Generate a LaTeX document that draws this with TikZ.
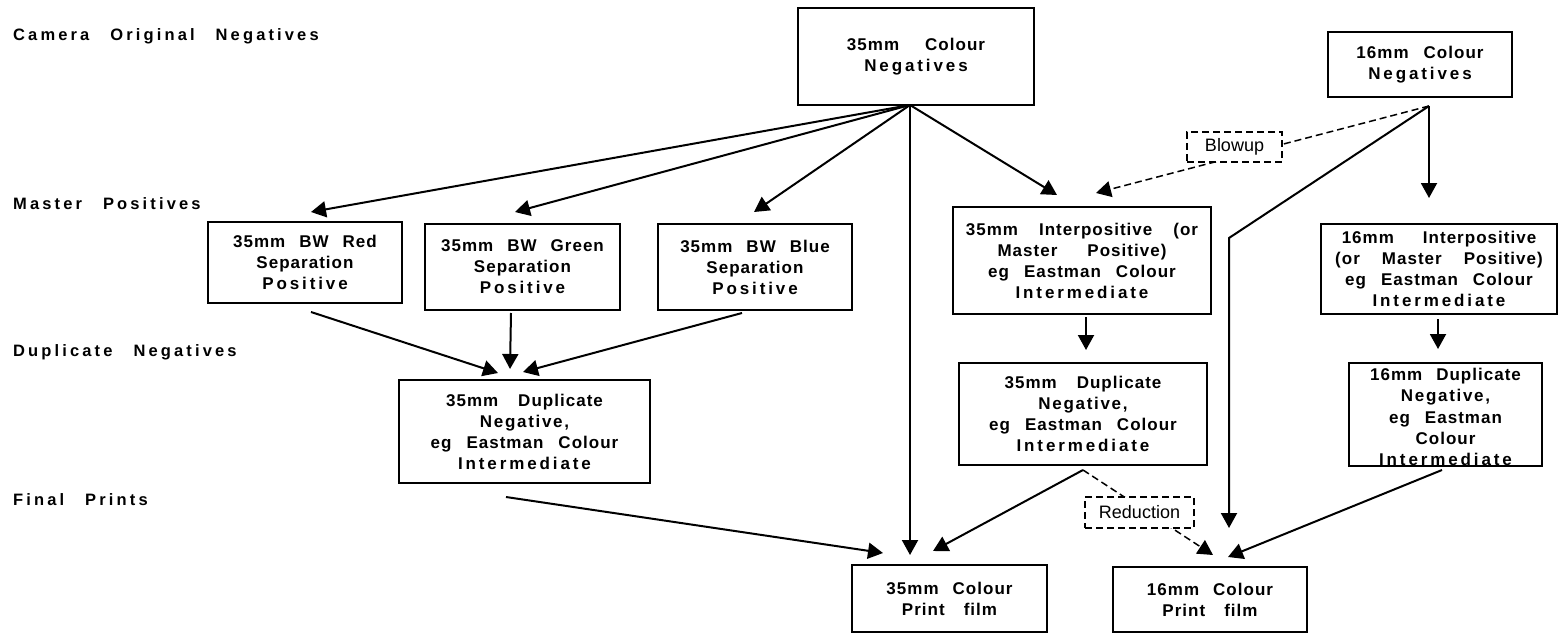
\documentclass[tikz,border=0pt]{standalone}
\usepackage{fontspec}
\setmainfont{Liberation Sans}
\newfontfamily\bxf{Liberation Sans}[LetterSpace=6]
\newfontfamily\bxw{Liberation Sans}[LetterSpace=17]
\newfontfamily\bxn{Liberation Sans}[LetterSpace=10]
\newfontfamily\lblf{Liberation Sans}[LetterSpace=19]
\usetikzlibrary{arrows.meta}
\newcommand\gp[1]{\hspace{#1pt}}
\newcommand\wide[1]{{\bxw\bfseries #1}}
\newcommand\midsp[1]{{\bxn\bfseries #1}}
\begin{document}
\begin{tikzpicture}[x=1pt,y=-1pt,
  box/.style={draw, line width=1.8pt, inner sep=0pt, align=center,
    font=\bxf\bfseries\fontsize{17}{21}\selectfont},
  txt/.style={inner sep=0pt, align=center,
    font=\bxf\bfseries\fontsize{17}{21.25}\selectfont},
  lvl/.style={inner sep=0pt, anchor=base west,
    font=\lblf\bfseries\fontsize{16.5}{20}\selectfont},
  tag/.style={draw, dash pattern=on 7pt off 4pt, line width=1.5pt, fill=white,
    inner sep=0pt, font=\fontsize{18}{20}\selectfont},
  arr/.style={line width=2pt, -{Triangle[length=15pt,width=16pt]}},
  dsh/.style={line width=1.5pt, dash pattern=on 7pt off 4pt,
    -{Triangle[length=15pt,width=16pt]}}]
\useasboundingbox (0,0) rectangle (1558,634);

% level labels
\node[lvl] (L1) at (13,41) {Camera\gp{21}Original\gp{21}Negatives};
\node[lvl] (L2) at (13,209) {Master\gp{21}Positives};
\node[lvl] (L3) at (13,356) {Duplicate\gp{21}Negatives};
\node[lvl] (L4) at (13,505) {Final\gp{21}Prints};

% boxes
\node[box, minimum width=236, minimum height=97] (N35) at (916,56.5)
  {35mm\gp{26}Colour\\\wide{Negatives}};
\node[box, minimum width=184, minimum height=65] (N16) at (1420,64.5)
  {16mm\gp{15}Colour\\\wide{Negatives}};
\node[box, minimum width=194, minimum height=81] (Red) at (305,262.5)
  {35mm\gp{14}BW\gp{14}Red\\Separation\\\wide{Positive}};
\node[box, minimum width=195, minimum height=86] (Green) at (522.5,267)
  {35mm\gp{14}BW\gp{14}Green\\Separation\\\wide{Positive}};
\node[box, minimum width=194, minimum height=86] (Blue) at (755,267)
  {35mm\gp{14}BW\gp{14}Blue\\Separation\\\wide{Positive}};
\node[box, minimum width=258, minimum height=107] (IP35) at (1082,260.5)
  {35mm\gp{21}Interpositive\gp{21}(or\\Master\gp{30}Positive)\\eg\gp{15}Eastman\gp{15}Colour\\\wide{Intermediate}};
\node[box, minimum width=236, minimum height=90] (IP16) at (1439,269)
  {16mm\gp{29}Interpositive\\(or\gp{22}Master\gp{22}Positive)\\eg\gp{15}Eastman\gp{15}Colour\\\wide{Intermediate}};
\node[box, minimum width=248, minimum height=102] (DN35) at (1083,414)
  {35mm\gp{20}Duplicate\\\midsp{Negative,}\\eg\gp{15}Eastman\gp{15}Colour\\\wide{Intermediate}};
\node[box, minimum width=251, minimum height=103] (DNL) at (524.5,431.5)
  {35mm\gp{20}Duplicate\\\midsp{Negative,}\\eg\gp{15}Eastman\gp{15}Colour\\\wide{Intermediate}};
\node[txt] (DN16t) at (1445.5,417)
  {16mm\gp{14}Duplicate\\\midsp{Negative,}\\eg\gp{15}Eastman\\Colour\\\wide{Intermediate}};
\node[draw, line width=1.8pt, inner sep=0pt, minimum width=193, minimum height=103] (DN16) at (1445.5,414.5) {};
\node[box, minimum width=195, minimum height=67] (P35) at (949.5,598.5)
  {35mm\gp{14}Colour\\Print\gp{19}film};
\node[box, minimum width=194, minimum height=65] (P16) at (1210,599.5)
  {16mm\gp{14}Colour\\Print\gp{19}film};

% connector end points
\coordinate (s35) at (910,105);
\coordinate (s16) at (1429,106);
\coordinate (bend16) at (1229,238);
\coordinate (tRed) at (311,212);
\coordinate (tGreen) at (515,212);
\coordinate (tBlue) at (754,212);
\coordinate (tP35a) at (910,555);
\coordinate (tIP35) at (1057,195);
\coordinate (tIP16) at (1429,198);
\coordinate (tBlow) at (1096,193);
\coordinate (tP16a) at (1229,528);
\coordinate (rR) at (311,312);
\coordinate (rG) at (511,313);
\coordinate (rB) at (742,313);
\coordinate (tDa) at (498,373);
\coordinate (tDb) at (510,369);
\coordinate (tDc) at (523,372);
\coordinate (i35) at (1086,317);
\coordinate (tD35) at (1086,350);
\coordinate (i16) at (1438,319);
\coordinate (tD16) at (1438,349);
\coordinate (dL) at (506,497);
\coordinate (tP35b) at (883,553);
\coordinate (d35) at (1083,470);
\coordinate (tP35c) at (933,551);
\coordinate (tP16b) at (1213,555);
\coordinate (d16) at (1442,470);
\coordinate (tP16c) at (1228,557);

% connectors
\draw[arr] (s35) -- (tRed);
\draw[arr] (s35) -- (tGreen);
\draw[arr] (s35) -- (tBlue);
\draw[arr] (s35) -- (tP35a);
\draw[arr] (s35) -- (tIP35);
\draw[arr] (s16) -- (tIP16);
\draw[dsh] (s16) -- (tBlow);
\draw[arr] (s16) -- (bend16) -- (tP16a);
\draw[arr] (rR) -- (tDa);
\draw[arr] (rG) -- (tDb);
\draw[arr] (rB) -- (tDc);
\draw[arr] (i35) -- (tD35);
\draw[arr] (i16) -- (tD16);
\draw[arr] (dL) -- (tP35b);
\draw[arr] (d35) -- (tP35c);
\draw[dsh] (d35) -- (tP16b);
\draw[arr] (d16) -- (tP16c);

% dashed labels on the dashed connectors
\node[tag, minimum width=95, minimum height=30] (Blow) at (1234.5,147) {Blowup};
\node[tag, minimum width=109, minimum height=31] (Red2) at (1139.5,512.5) {Reduction};
\end{tikzpicture}
\end{document}
